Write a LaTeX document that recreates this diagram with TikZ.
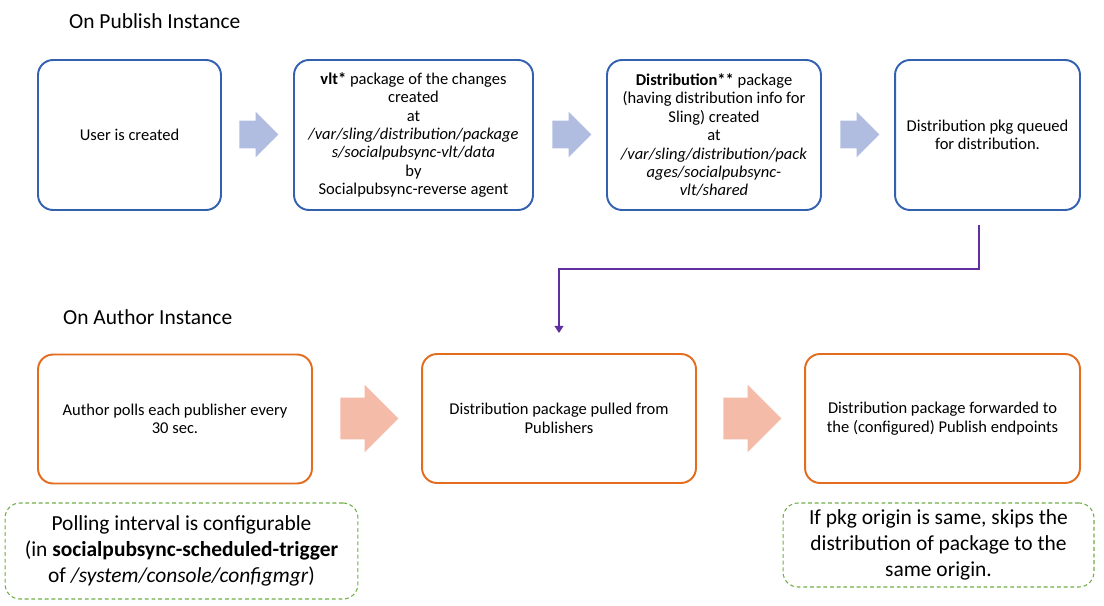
\documentclass[tikz,border=0pt]{standalone}
\usepackage{fontspec}
\setmainfont{Carlito}
\usetikzlibrary{shapes.arrows,arrows.meta}
\definecolor{pubblue}{HTML}{3361B0}
\definecolor{pubarrow}{HTML}{B0BDE0}
\definecolor{autorange}{HTML}{E46C1E}
\definecolor{autarrow}{HTML}{F4BBA8}
\definecolor{notegreen}{HTML}{70AD47}
\definecolor{linkpurple}{HTML}{6030A0}
\begin{document}
\begin{tikzpicture}[x=0.02cm, y=-0.02cm,
            pub/.style={draw=pubblue, line width=1.1pt, rounded corners=0.3cm, align=center,
                minimum height=3cm, font=\fontsize{9.4}{10.5}\selectfont},
            aut/.style={draw=autorange, line width=1.1pt, rounded corners=0.3cm, align=center,
                minimum height=2.58cm, minimum width=5.48cm, font=\fontsize{9.4}{10.5}\selectfont},
            note/.style={draw=notegreen, line width=0.6pt, dash pattern=on 2.2pt off 1.6pt,
                rounded corners=0.3cm, align=center, font=\fontsize{12.2}{14.7}\selectfont},
            pubarr/.style={single arrow, fill=pubarrow, inner xsep=0pt, inner ysep=0.27cm,
                minimum height=0.78cm, single arrow head extend=0.18cm, anchor=tail},
            autarr/.style={single arrow, fill=autarrow, inner xsep=0pt, inner ysep=0.41cm,
                minimum height=1.16cm, single arrow head extend=0.26cm, anchor=tail},
            heading/.style={anchor=west, font=\fontsize{12.2}{14}\selectfont}]
            \useasboundingbox (0,0) rectangle (1104,605);

            \node[heading] (pubtitle) at (63,21) {On Publish Instance};
            \node[heading] (auttitle) at (57,317) {On Author Instance};

            \node[pub, minimum width=3.66cm] (p1) at (129.5,135) {User is created};
            \node[pub, minimum width=4.78cm] (p2) at (413.5,135) {\textbf{vlt*} package of the changes\\created\\at\\\textit{/var/sling/distribution/package}\\\textit{s/socialpubsync-vlt/data}\\by\\Socialpubsync-reverse agent};
            \node[pub, minimum width=4.28cm] (p3) at (714,135) {\textbf{Distribution**} package\\(having distribution info for\\Sling) created\\at\\\textit{/var/sling/distribution/pack}\\\textit{ages/socialpubsync-}\\\textit{vlt/shared}};
            \node[pub, minimum width=3.7cm] (p4) at (987.5,135) {Distribution pkg queued\\for distribution.};

            \node[pubarr] (pa1) at (239,134.5) {};
            \node[pubarr] (pa2) at (552,134.5) {};
            \node[pubarr] (pa3) at (840,134.5) {};

            \node[aut] (a1) at (175,419) {Author polls each publisher every\\30 sec.};
            \node[aut] (a2) at (559,418.5) {Distribution package pulled from\\Publishers};
            \node[aut, minimum width=5.5cm] (a3) at (942.5,418.5) {Distribution package forwarded to\\the (configured) Publish endpoints};

            \node[autarr] (aa1) at (340,418.5) {};
            \node[autarr] (aa2) at (723,418.5) {};

            \node[note, minimum width=7.06cm, minimum height=1.92cm] (n1) at (181.5,551) {Polling interval is configurable\\(in \textbf{socialpubsync-scheduled-trigger}\\of \textit{/system/console/configmgr})};
            \node[note, minimum width=6.22cm, minimum height=1.68cm] (n2) at (938.5,545) {If pkg origin is same, skips the\\distribution of package to the\\same origin.};

            \coordinate (qstart) at (979,225);
            \coordinate (qend) at (559,333);
            \draw[linkpurple, line width=0.7pt, -{Triangle[width=5pt,length=4pt]}] (qstart) |- (559,269) -- (qend);
        \end{tikzpicture}
\end{document}
